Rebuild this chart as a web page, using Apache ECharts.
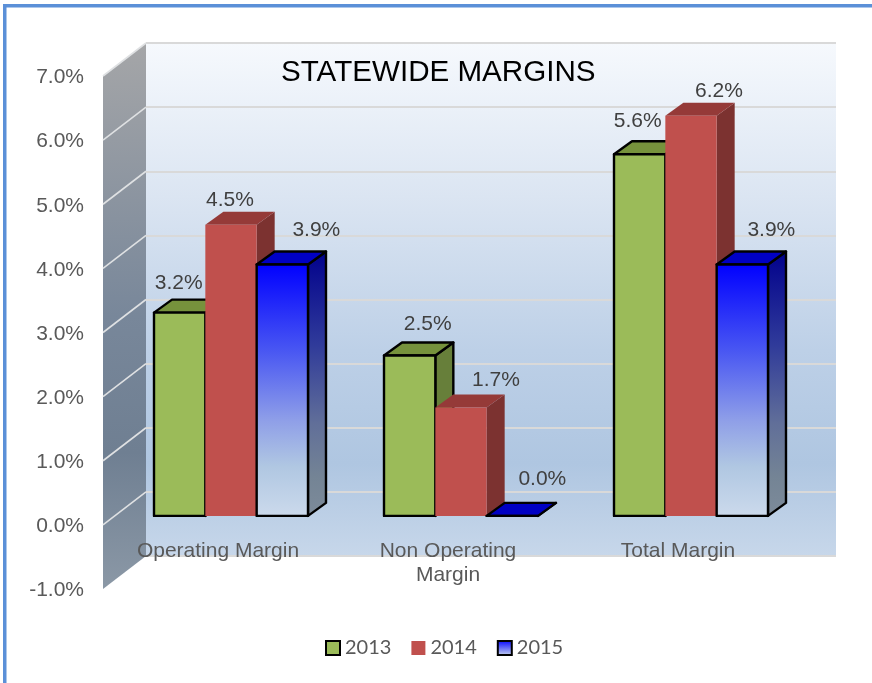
<!DOCTYPE html>
<html>
<head>
<meta charset="utf-8">
<style>html,body{margin:0;padding:0;background:#fff}#c{width:872px;height:683px}</style>
<script src="https://cdn.jsdelivr.net/npm/echarts@6/dist/echarts.min.js"></script>
</head>
<body>
<div id="c"></div>
<script>
const categories = ['Operating Margin', 'Non Operating\nMargin', 'Total Margin'];
const years = ['2013', '2014', '2015'];
const values2013 = [3.17, 2.5, 5.64];
const values2014 = [4.54, 1.69, 6.24];
const values2015 = [3.92, 0.0, 3.92];
const yTicks = [-1, 0, 1, 2, 3, 4, 5, 6, 7];

// label displacement from the bar's top-centre, per category
const labelShift2013 = [[-1, -29], [18, -31], [-2, -33]];
const labelShift2014 = [[-1, -25], [35, -27], [28, -25]];
const labelShift2015 = [[34, -34], [30, -37], [29, -34]];

const vgrad = (stops) => ({
  type: 'linear', x: 0, y: 0, x2: 0, y2: 1,
  colorStops: stops.map(s => ({ offset: s[0], color: s[1] }))
});

const FONT = '"Liberation Sans", Arial, sans-serif';
const PLANE = { x: -30, y: 24 };      // front of bars, relative to back wall
const DEPTH = { x: 18, y: -13 };      // bar depth
const WALL = { x: -43, y: 33 };       // left wall depth
const BAR_W = 51.33;

const looks = [
  { front: '#9bbb59', top: '#76923c', side: '#677f3a', stroke: '#000', lw: 2.4, text: labelShift2013 },
  { front: '#c0504d', top: '#953a38', side: '#7c3230', stroke: null, lw: 0, text: labelShift2014 },
  {
    front: vgrad([[0, '#0000ff'], [0.35, '#4a58f2'], [0.62, '#8f9fe8'], [0.8, '#b0c7e2'], [1, '#ccdaec']]),
    top: '#0000c4',
    side: vgrad([[0, '#00008c'], [0.35, '#2f3a9a'], [0.65, '#616f99'], [0.85, '#748495'], [1, '#7d8b9a']]),
    stroke: '#000', lw: 2.4, text: labelShift2015
  }
];

function poly(points, fill, look, z2) {
  return {
    type: 'polygon', z2: z2,
    shape: { points: points },
    style: { fill: fill, stroke: look.stroke || 'none', lineWidth: look.lw, lineJoin: 'round' }
  };
}

function barSeries(name, data, idx) {
  const look = looks[idx];
  return {
    type: 'custom',
    name: name,
    xAxisIndex: 1, yAxisIndex: 1,
    z: 5 + idx,
    itemStyle: { color: idx === 2 ? vgrad([[0, '#0000ff'], [1, '#ccdaec']]) : look.front },
    encode: { x: 0, y: 1 },
    data: data.map((v, i) => [i, v]),
    renderItem: function (params, api) {
      const c = api.value(0);
      const v = api.value(1);
      const top = api.coord([c, v]);
      const base = api.coord([c, 0]);
      const x0 = top[0] + PLANE.x - BAR_W * 1.5 + idx * BAR_W;
      const x1 = x0 + BAR_W;
      const yT = top[1] + PLANE.y;
      const yB = base[1] + PLANE.y;
      const dx = DEPTH.x, dy = DEPTH.y;
      const shift = look.text[c];
      return {
        type: 'group',
        children: [
          poly([[x1, yT], [x1 + dx, yT + dy], [x1 + dx, yB + dy], [x1, yB]], look.side, look, 1),
          poly([[x0, yT], [x1, yT], [x1 + dx, yT + dy], [x0 + dx, yT + dy]], look.top, look, 2),
          poly([[x0, yT], [x1, yT], [x1, yB], [x0, yB]], look.front, look, 3),
          {
            type: 'text', z2: 4,
            style: {
              text: v.toFixed(1) + '%',
              x: (x0 + x1) / 2 + shift[0],
              y: yT + shift[1],
              fill: '#404040',
              font: '21px ' + FONT,
              align: 'center',
              verticalAlign: 'middle'
            }
          }
        ]
      };
    }
  };
}

const sideWall = {
  type: 'custom',
  xAxisIndex: 1, yAxisIndex: 1,
  z: 3, silent: true,
  data: [[0, 0]],
  encode: { x: 0, y: 1 },
  renderItem: function (params, api) {
    const left = params.coordSys.x;
    const yOf = v => api.coord([0, v])[1];
    const yTop = yOf(yTicks[yTicks.length - 1]);
    const yBot = yOf(yTicks[0]);
    const kids = [{
      type: 'polygon',
      shape: { points: [[left, yTop], [left + WALL.x, yTop + WALL.y], [left + WALL.x, yBot + WALL.y], [left, yBot]] },
      style: { fill: vgrad([[0, '#a5a6a8'], [0.5, '#78879a'], [0.75, '#6f7f92'], [1, '#8b98a6']]) }
    }];
    yTicks.slice(1).forEach(t => {
      kids.push({
        type: 'line',
        shape: { x1: left, y1: yOf(t), x2: left + WALL.x, y2: yOf(t) + WALL.y },
        style: { stroke: '#dfe1e3', lineWidth: 1.6 }
      });
    });
    return { type: 'group', children: kids };
  }
};

const option = {
  animation: false,
  backgroundColor: '#fff',
  title: {
    text: 'STATEWIDE MARGINS',
    left: 276, top: 53,
    textStyle: { color: '#000', fontFamily: FONT, fontSize: 29.6, fontWeight: 'normal' }
  },
  graphic: [
    { type: 'rect', shape: { x: 3, y: 4, width: 869, height: 3.5 }, style: { fill: '#5b90d8' }, silent: true },
    { type: 'rect', shape: { x: 3, y: 4, width: 3.5, height: 679 }, style: { fill: '#5b90d8' }, silent: true }
  ],
  legend: {
    left: 320, top: 633,
    itemWidth: 14, itemHeight: 14, itemGap: 20,
    textStyle: { color: '#595959', fontFamily: 'Lato', fontSize: 20 },
    data: [
      { name: '2013', icon: 'rect', itemStyle: { color: '#9bbb59', borderColor: '#000', borderWidth: 2 } },
      { name: '2014', icon: 'rect', itemStyle: { color: '#c0504d', borderWidth: 0 } },
      { name: '2015', icon: 'rect', itemStyle: { color: vgrad([[0, '#0000ff'], [1, '#ccdaec']]), borderColor: '#000', borderWidth: 2 } }
    ]
  },
  grid: [
    { left: 103, top: 77.5, width: 690, height: 513 },
    {
      left: 146, top: 43, width: 690, height: 513, show: true, borderWidth: 0,
      backgroundColor: vgrad([[0, '#f6f9fd'], [0.3, '#dbe5f2'], [0.6, '#bdd0e7'], [0.82, '#afc6e1'], [1, '#c7d7ea']])
    }
  ],
  xAxis: [
    {
      gridIndex: 0, type: 'category', data: categories, z: 8,
      axisLine: { show: false }, axisTick: { show: false },
      axisLabel: { color: '#595959', fontFamily: FONT, fontSize: 21, margin: -51, lineHeight: 24, interval: 0 }
    },
    {
      gridIndex: 1, type: 'category', data: categories,
      axisLine: { show: false }, axisTick: { show: false }, axisLabel: { show: false }
    }
  ],
  yAxis: [
    {
      gridIndex: 0, type: 'value', min: -1, max: 7, interval: 1,
      axisLine: { show: false }, axisTick: { show: false }, splitLine: { show: false },
      axisLabel: { color: '#595959', fontFamily: FONT, fontSize: 21, margin: 19, formatter: v => v.toFixed(1) + '%' }
    },
    {
      gridIndex: 1, type: 'value', min: -1, max: 7, interval: 1,
      axisLine: { show: false }, axisTick: { show: false }, axisLabel: { show: false },
      splitLine: { show: true, lineStyle: { color: '#d9d9d9', width: 2 } }
    }
  ],
  series: [
    sideWall,
    barSeries(years[0], values2013, 0),
    barSeries(years[1], values2014, 1),
    barSeries(years[2], values2015, 2)
  ]
};

echarts.init(document.getElementById('c'), null, { renderer: 'canvas' }).setOption(option);
</script>
</body>
</html>
